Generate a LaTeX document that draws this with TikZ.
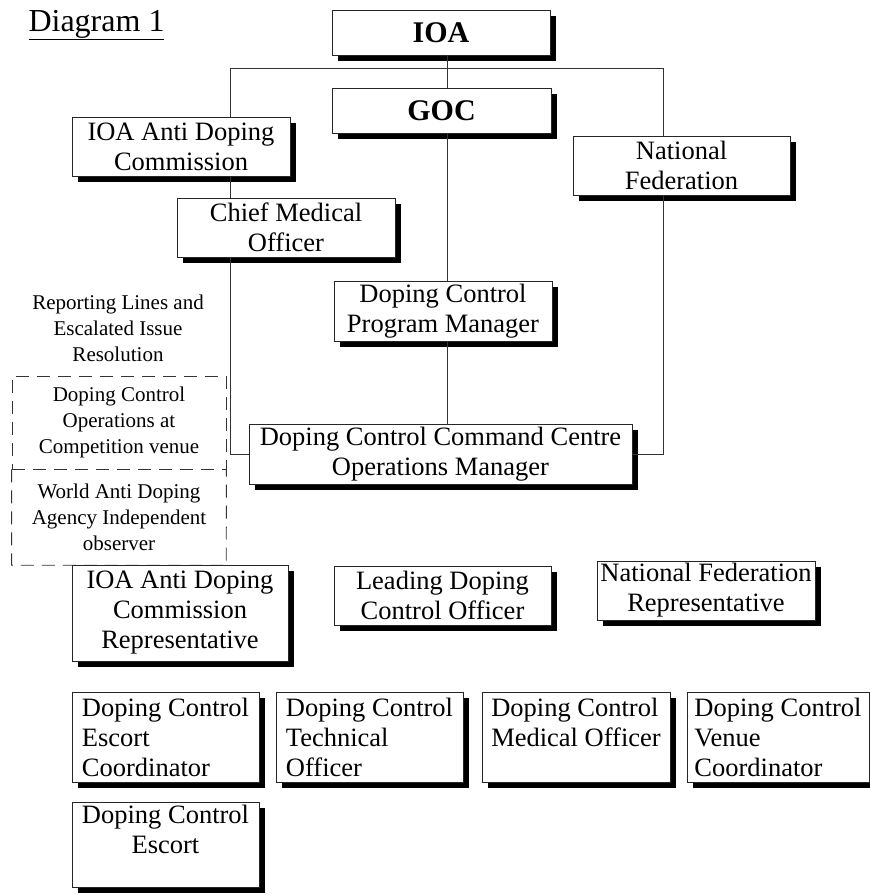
\documentclass[tikz,border=0pt]{standalone}
\usepackage{fontspec}
\setmainfont{Liberation Serif}
\usetikzlibrary{shadows}

\begin{document}
\begin{tikzpicture}[x=1pt, y=-1pt, every node/.style={font=\fontsize{26.5}{30}\selectfont},
  orgbox/.style={draw=black!85, line width=0.9pt, fill=white, align=center, inner sep=2pt,
    drop shadow={shadow xshift=6pt, shadow yshift=-6pt, fill=black, opacity=1}},
  obsline/.style={draw=black!80, line width=0.9pt, dash pattern=on 13pt off 8pt},
  obsbox/.style={align=center, inner sep=0pt, font=\fontsize{21}{26}\selectfont},
  link/.style={draw=black!80, line width=1pt}]
  \useasboundingbox (0,0) rectangle (870,895);
  \node[anchor=base west, font=\fontsize{32}{36}\selectfont] (title) at (25,31) {\underline{Diagram 1}};
  \node[orgbox, minimum width=218pt, minimum height=45pt, font=\fontsize{30}{34}\selectfont\bfseries] (ioa) at (441,32.5) {IOA};
  \node[orgbox, minimum width=219pt, minimum height=45pt, font=\fontsize{30}{34}\selectfont\bfseries] (goc) at (441.5,110.5) {GOC};
  \node[orgbox, minimum width=218pt, minimum height=59pt] (adc) at (181,146.5) {IOA Anti Doping\\Commission};
  \node[orgbox, minimum width=218pt, minimum height=59pt] (cmo) at (286,227.5) {Chief Medical\\Officer};
  \node[orgbox, minimum width=217pt, minimum height=59pt] (nf) at (681.5,165.5) {National\\Federation};
  \node[orgbox, minimum width=218pt, minimum height=60pt] (dcpm) at (443,311) {Doping Control\\Program Manager};
  \node[orgbox, minimum width=383pt, minimum height=60pt] (dccc) at (440.5,454) {Doping Control Command Centre\\Operations Manager};
  \node[align=center, font=\fontsize{21}{26}\selectfont] (report) at (118,328) {Reporting Lines and\\Escalated Issue\\Resolution};
  \node[obsbox, obsline, minimum width=214pt, minimum height=93pt] (venue) at (119,422.5) {Doping Control\\Operations at\\Competition venue};
  \node[obsbox, minimum width=214pt, minimum height=96pt] (wada) at (119,517) {World Anti Doping\\Agency Independent\\observer};
  \draw[obsline] (venue.south west) |- (wada.south east) -- (venue.south east);
  \node[orgbox, minimum width=216pt, minimum height=96pt] (adcrep) at (180,613) {IOA Anti Doping\\Commission\\Representative};
  \node[orgbox, minimum width=217pt, minimum height=59pt] (ldco) at (442.5,595.5) {Leading Doping\\Control Officer};
  \node[orgbox, minimum width=218pt, minimum height=59pt] (nfrep) at (706,590.5) {National Federation\\Representative};
  \node[orgbox, align=left, minimum width=187pt, minimum height=90pt] (escco) at (165.5,737) {Doping Control\\Escort\\Coordinator};
  \node[orgbox, align=left, minimum width=187pt, minimum height=90pt] (tech) at (369.5,737) {Doping Control\\Technical\\Officer};
  \node[orgbox, align=left, minimum width=188pt, minimum height=90pt] (medic) at (576,737) {Doping Control\\Medical Officer\\~};
  \node[orgbox, align=left, minimum width=182pt, minimum height=90pt] (venco) at (778,737) {Doping Control\\Venue\\Coordinator};
  \node[orgbox, minimum width=187pt, minimum height=85pt] (escort) at (165.5,844.5) {Doping Control\\Escort\\~};
  \coordinate (lbus) at (230,68);
  \coordinate (mbus) at (447,68);
  \coordinate (rbus) at (663,68);
  \draw[link] (lbus) -- (rbus);
  \draw[link] (mbus |- ioa.south) -- (mbus |- goc.north);
  \draw[link] (mbus |- goc.south) -- (mbus |- dcpm.north);
  \draw[link] (mbus |- dcpm.south) -- (mbus |- dccc.north);
  \draw[link] (lbus) -- (lbus |- adc.north);
  \draw[link] (lbus |- adc.south) -- (lbus |- cmo.north);
  \draw[link] (lbus |- cmo.south) |- (dccc.west);
  \draw[link] (rbus) -- (rbus |- nf.north);
  \draw[link] (rbus |- nf.south) |- (dccc.east);
\end{tikzpicture}
\end{document}
